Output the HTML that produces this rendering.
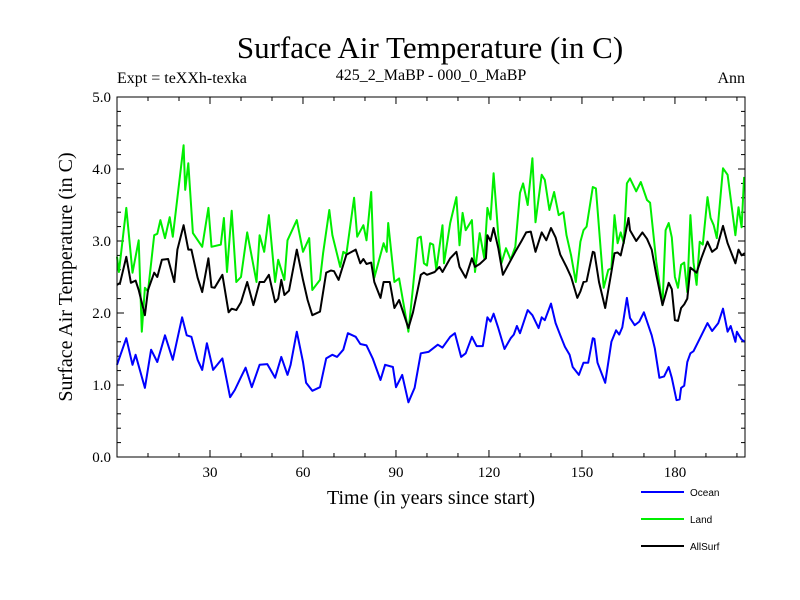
<!DOCTYPE html>
<html><head><meta charset="utf-8"><style>
body{margin:0;background:#fff;}
svg{display:block;font-family:"Liberation Serif",serif;}
</style></head><body>
<svg id="chart" width="800" height="600" viewBox="0 0 800 600">
<rect width="800" height="600" fill="#fff"/>
<text x="430" y="58" text-anchor="middle" font-size="31">Surface Air Temperature (in C)</text>
<text x="117" y="83" font-size="16">Expt = teXXh-texka</text>
<text x="431" y="80" text-anchor="middle" font-size="16">425_2_MaBP - 000_0_MaBP</text>
<text x="745" y="83" text-anchor="end" font-size="16">Ann</text>
<text transform="translate(72,277) rotate(-90)" text-anchor="middle" font-size="20">Surface Air Temperature (in C)</text>
<text x="431" y="504" text-anchor="middle" font-size="20">Time (in years since start)</text>
<g id="ticks"></g>
<g id="series"></g>
<rect x="117" y="97" width="628" height="360" fill="none" stroke="#000" stroke-width="1"/>
<g id="legend"></g>
</svg>
<script>
const xTicks=[30,60,90,120,150,180];
const yTicks=[0,1,2,3,4,5];
const oceanYears=[0,3,5,6,9,11,13,15.5,18,21,22.5,24,26,27.5,29,31,34,36.5,38,40,41.5,43.5,46,48.5,51,53,55,56,58,60,61,63,65.5,67.5,69.5,71,73,74.5,77,78.5,80.5,82.5,85,86.5,89,90,92,94,96,98,100.5,103.5,105,107.5,109,111,112.5,114.5,116,118,119.5,120.5,121.5,123,125,127,128,129,130,132.5,134,136,137,138,140,141.5,143,144.5,146,147,149,150.5,152,153.5,154,155,157.5,159.5,161,162,163,164.5,165.5,167,168.5,170,172.5,173.5,175,176.5,178,179,180.5,181.5,182,183,184,185,186,187.5,190.5,192,194,195.5,197,198,199.5,200,201.5,202.5];
const oceanVals=[1.28,1.65,1.28,1.42,0.96,1.49,1.32,1.69,1.35,1.94,1.69,1.67,1.35,1.21,1.58,1.21,1.37,0.83,0.93,1.11,1.24,0.97,1.28,1.29,1.1,1.39,1.14,1.28,1.74,1.32,1.03,0.92,0.97,1.37,1.42,1.39,1.49,1.72,1.67,1.57,1.55,1.37,1.07,1.28,1.25,0.97,1.14,0.76,0.96,1.44,1.46,1.56,1.52,1.67,1.72,1.39,1.44,1.67,1.54,1.54,1.94,1.88,1.99,1.79,1.5,1.65,1.7,1.82,1.72,2.04,1.97,1.79,1.94,1.9,2.13,1.86,1.69,1.53,1.42,1.25,1.14,1.31,1.31,1.65,1.64,1.31,1.03,1.6,1.76,1.7,1.8,2.21,1.93,1.83,1.88,2.01,1.69,1.51,1.1,1.12,1.25,1.1,0.79,0.8,0.96,0.99,1.32,1.44,1.47,1.6,1.86,1.75,1.86,2.06,1.74,1.82,1.6,1.74,1.63,1.6];
const landYears=[0,0.6,3,5,7,8,9,10,12,13,14,15.5,17,18,21.5,22,23,24.5,27.5,29.5,30.5,33.5,34.5,35.5,37,38.5,40,42,45,46,47.5,49,51,52,54,55,58,60,62,63,65.5,66.5,68.5,69.5,72,73,74,76.5,77.5,79.5,80.5,82,83,86,87,87.5,89.5,91,94,95.5,97,98,99,100,101,102,103,105,105.5,107.5,109.5,110.5,111.5,112.5,114.5,115.5,117,118.5,119.5,120.5,121.5,123,124,125.5,127,128.5,130,131,132.5,134,135,137,138,139.5,141,142.5,144,145,146.5,148,149.5,150.5,151.5,153.5,154.5,157,158.5,159.5,160.5,161.5,162.5,163.5,164.5,165.5,167.5,169,171,172,174,176,177,178,179,180,181,182,183,184,185,186,187,188,189,190.5,191.5,192.5,193.5,195.5,197,199.5,200.5,201.5,202.3];
const landVals=[2.78,2.57,3.46,2.56,3.01,1.74,2.35,2.3,3.08,3.1,3.29,3.04,3.33,3.06,4.33,3.71,4.08,3.11,2.92,3.46,2.92,2.95,3.32,2.57,3.42,2.43,2.5,3.12,2.43,3.08,2.85,3.36,2.43,2.74,2.46,3.01,3.29,2.85,3.04,2.32,2.46,2.83,3.43,3.08,2.64,2.85,2.82,3.6,3.06,3.22,3.01,3.68,2.49,2.97,2.85,3.25,2.43,2.48,1.74,2.36,3.04,3.06,2.69,2.66,2.97,2.95,2.6,3.22,2.69,3.25,3.61,2.94,3.39,3.15,3.29,2.57,3.11,2.76,3.46,3.3,3.94,3.08,2.69,2.9,2.74,2.92,3.67,3.8,3.5,4.15,3.26,3.92,3.85,3.43,3.68,3.36,3.4,3.08,2.8,2.43,2.99,3.15,3.2,3.75,3.73,2.35,2.6,2.62,3.36,2.97,3.12,2.97,3.8,3.87,3.69,3.82,3.57,3.53,2.71,2.11,3.15,3.25,3.05,2.5,2.35,2.67,2.7,2.29,3.36,2.7,2.39,2.99,2.95,3.61,3.32,3.22,3.04,4.01,3.92,3.08,3.47,3.19,3.89];
const allYears=[0,1,3,4.5,6,7,9,10,12,13,14.5,16.5,18.5,19.5,21.5,23,24,26,27.5,29.5,30.5,31.5,34,36,37,38.5,40,42,44,46,47.5,49,51,52,53,54,55.5,58,60,61.5,63,65.5,67.5,69,70,71.5,74,77,78.5,79.5,80.5,82,83,85,86,88,89.5,91,94,95.5,98,99,100,102.5,104,105,107.5,109.5,110.5,112.5,114.5,115.5,117,119,119.5,120.5,121.5,123,124.5,126.5,128.5,130.5,132,133.5,135,137,138.5,140,141.5,143,145,146.5,148.5,149.5,150.5,151.5,153.5,154,155.5,157.5,159.5,160.5,161.5,162.5,163.5,165,165.5,167.5,169.5,171,172.5,174,176,178,179,180,181,182,183,184,185,187,188.5,190.5,192,193.5,195.5,197,199.5,200.5,201.5,202.5];
const allVals=[2.39,2.42,2.78,2.42,2.45,2.32,1.97,2.32,2.56,2.5,2.74,2.75,2.43,2.88,3.22,2.88,2.88,2.49,2.29,2.76,2.36,2.35,2.53,2.01,2.06,2.04,2.15,2.43,2.11,2.43,2.43,2.53,2.15,2.2,2.46,2.25,2.31,2.88,2.46,2.18,1.97,2.02,2.56,2.59,2.58,2.46,2.81,2.88,2.69,2.75,2.68,2.7,2.43,2.21,2.43,2.43,2.07,2.18,1.79,2.01,2.53,2.56,2.53,2.57,2.64,2.57,2.76,2.85,2.64,2.49,2.76,2.64,2.68,2.76,3.08,3.0,3.18,2.9,2.53,2.69,2.85,3.0,3.12,3.13,2.85,3.12,3.01,3.18,3.05,2.81,2.64,2.5,2.21,2.3,2.43,2.44,2.85,2.84,2.43,2.07,2.57,2.83,2.84,2.8,2.99,3.32,3.15,3.0,3.12,3.03,2.88,2.53,2.11,2.42,2.33,1.9,1.89,2.07,2.12,2.2,2.63,2.56,2.76,2.99,2.85,2.9,3.21,2.97,2.69,2.88,2.8,2.83];

const L=117,R=745,T=97,B=457,XMAX=202.6,YMAX=5;
const NS='http://www.w3.org/2000/svg';
function sx(v){return L+v/XMAX*(R-L);}
function sy(v){return B-v/YMAX*(B-T);}
function mk(tag,attrs,parent){const e=document.createElementNS(NS,tag);for(const k in attrs)e.setAttribute(k,attrs[k]);parent.appendChild(e);return e;}

const tg=document.getElementById('ticks');
for(let v=0;v<=5.001;v+=0.2){
  const major=Math.abs(v-Math.round(v))<1e-6;const len=major?7:4;const y=sy(v);
  const t1=mk('line',{x1:L,x2:L+len,y1:y,y2:y,stroke:'#000'},tg);
  
  
  const t2=mk('line',{x1:R,x2:R-len,y1:y,y2:y,stroke:'#000'},tg);
  
  
}
yTicks.forEach(v=>{
  const t=mk('text',{x:L-6,y:sy(v)+5,'text-anchor':'end','font-size':15},tg);
  t.textContent=v.toFixed(1);
  
  
});
for(let v=10;v<XMAX;v+=10){
  const major=v%30===0;const len=major?7:4;const x=sx(v);
  const t1=mk('line',{x1:x,x2:x,y1:B,y2:B-len,stroke:'#000'},tg);
  
  
  const t2=mk('line',{x1:x,x2:x,y1:T,y2:T+len,stroke:'#000'},tg);
  
  
}
xTicks.forEach(v=>{
  const t=mk('text',{x:sx(v),y:B+20,'text-anchor':'middle','font-size':15},tg);
  t.textContent=String(v);
  
  
});

const sg=document.getElementById('series');
function line(xs,vs,color,name){
  const d=xs.map((x,i)=>(i?'L':'M')+sx(x).toFixed(1)+','+sy(vs[i]).toFixed(1)).join('');
  const p=mk('path',{d:d,fill:'none',stroke:color,'stroke-width':2,'stroke-linejoin':'round'},sg);
  
  
}
line(landYears,landVals,'#00ee00','land-line');
line(oceanYears,oceanVals,'#0000ff','ocean-line');
line(allYears,allVals,'#000000','allsurf-line');

const lg=document.getElementById('legend');
[['Ocean','#0000ff',492],['Land','#00ee00',519],['AllSurf','#000000',546]].forEach(([n,c,y])=>{
  const l=mk('line',{x1:641,x2:684,y1:y,y2:y,stroke:c,'stroke-width':2},lg);
  
  
  const t=mk('text',{x:690,y:y+4,'font-size':10,'font-family':'Liberation Sans, sans-serif'},lg);
  t.textContent=n;
  
  
});
</script>
</body></html>
